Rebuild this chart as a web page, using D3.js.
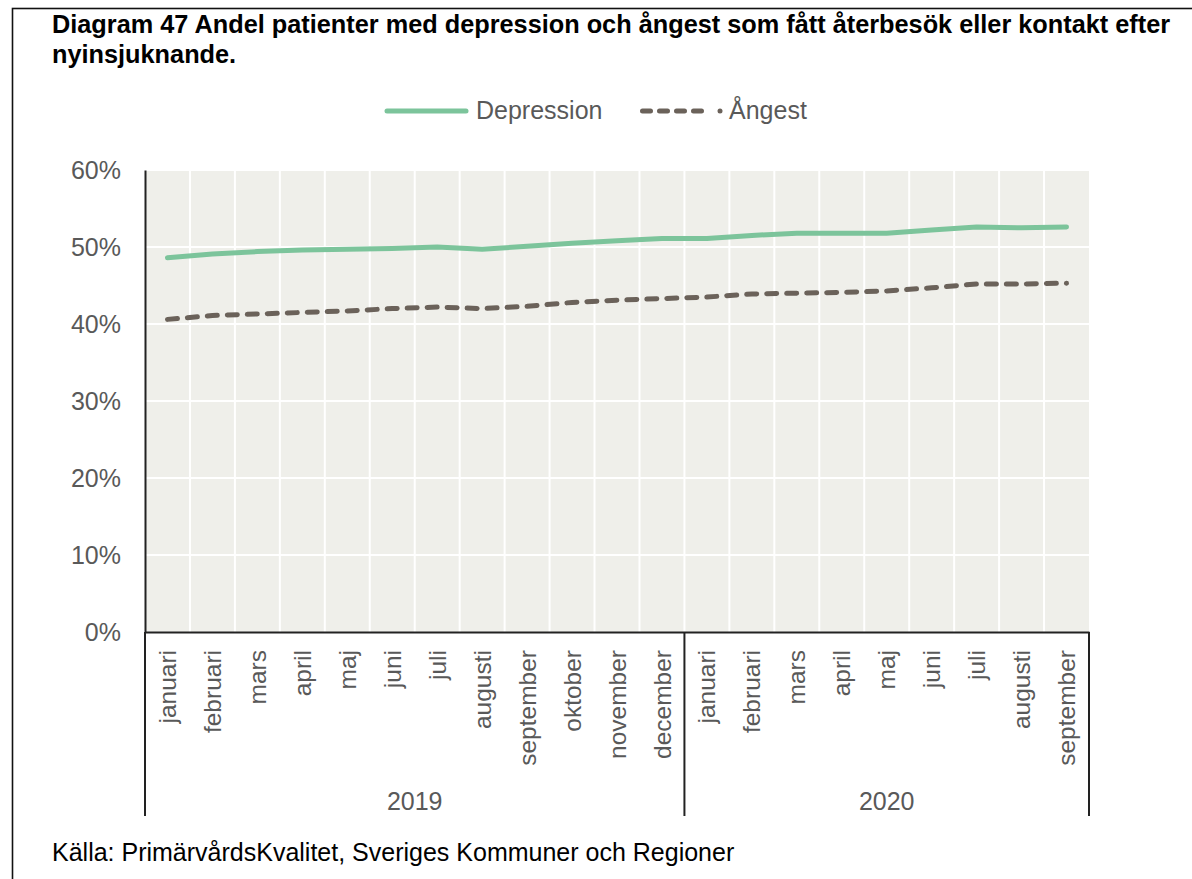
<!DOCTYPE html>
<html>
<head>
<meta charset="utf-8">
<script src="https://cdn.jsdelivr.net/npm/d3@7"></script>
<style>
  html, body { margin: 0; padding: 0; background: #fff; }
  svg { display: block; font-family: "Liberation Sans", Arial, Helvetica, sans-serif; }
</style>
</head>
<body>
<svg id="chart" width="1192" height="879"></svg>
<script>
// Months per year group
const years = ["2019", "2020"];
const months2019 = ["januari", "februari", "mars", "april", "maj", "juni", "juli", "augusti", "september", "oktober", "november", "december"];
const months2020 = ["januari", "februari", "mars", "april", "maj", "juni", "juli", "augusti", "september"];

// Share of patients (%) with a follow-up visit or contact after new onset
const depression = [48.6, 49.1, 49.4, 49.6, 49.7, 49.8, 50.0, 49.7, 50.1, 50.5, 50.8, 51.1,
                    51.1, 51.5, 51.8, 51.8, 51.8, 52.2, 52.6, 52.5, 52.6];
const angest = [40.6, 41.1, 41.3, 41.5, 41.7, 42.0, 42.2, 42.0, 42.3, 42.8, 43.1, 43.3,
                43.5, 43.9, 44.0, 44.1, 44.3, 44.7, 45.2, 45.2, 45.3];

const yTicks = [0, 10, 20, 30, 40, 50, 60];

const title1 = "Diagram 47 Andel patienter med depression och ångest som fått återbesök eller kontakt efter";
const title2 = "nyinsjuknande.";
const source = "Källa: PrimärvårdsKvalitet, Sveriges Kommuner och Regioner";

// Build category keys
const cats = [];
months2019.forEach((m, i) => cats.push({ key: "2019-" + i, label: m, year: "2019" }));
months2020.forEach((m, i) => cats.push({ key: "2020-" + i, label: m, year: "2020" }));

const svg = d3.select("#chart");
const W = 1192, H = 879;
const m = { left: 145, right: 1089, top: 170, bottom: 632 };

const grey = "#595959";
const bg = "#EFEFEA";
const green = "#7CC49B";
const brown = "#6B625A";
const fs = 25;

// Outer frame
svg.append("rect").attr("x", 12.5).attr("y", 8.5).attr("width", W).attr("height", H)
  .attr("fill", "none").attr("stroke", "#111").attr("stroke-width", 1.6);

// Title
svg.append("text").attr("x", 52).attr("y", 33).attr("font-weight", "bold").attr("font-size", 25.3)
  .attr("fill", "#000").text(title1);
svg.append("text").attr("x", 52).attr("y", 63).attr("font-weight", "bold").attr("font-size", 25.3)
  .attr("fill", "#000").text(title2);

const x = d3.scaleBand().domain(cats.map(d => d.key)).range([m.left, m.right]).padding(0);
const y = d3.scaleLinear().domain([0, 60]).range([m.bottom, m.top]);

// Plot background
svg.append("rect").attr("x", m.left).attr("y", m.top)
  .attr("width", m.right - m.left).attr("height", m.bottom - m.top).attr("fill", bg);

// Horizontal gridlines
svg.append("g").selectAll("line").data(yTicks.slice(1)).join("line")
  .attr("x1", m.left).attr("x2", m.right)
  .attr("y1", d => y(d)).attr("y2", d => y(d))
  .attr("stroke", "#fff").attr("stroke-width", 2);

// Vertical gridlines at category boundaries
svg.append("g").selectAll("line").data(cats.slice(1)).join("line")
  .attr("x1", d => x(d.key)).attr("x2", d => x(d.key))
  .attr("y1", m.top).attr("y2", m.bottom)
  .attr("stroke", "#fff").attr("stroke-width", 2);

// Y axis
const yAxis = d3.axisLeft(y).tickValues(yTicks).tickSize(0).tickPadding(24)
  .tickFormat(d => d + "%");
const gy = svg.append("g").attr("transform", `translate(${m.left},0)`).call(yAxis);
gy.select(".domain").attr("stroke", "#222").attr("stroke-width", 2);
gy.selectAll("text").attr("font-size", fs).attr("fill", grey)
  .attr("font-family", "'Liberation Sans', Arial, sans-serif");

// X axis with rotated month labels
const xAxis = d3.axisBottom(x).tickSize(0).tickFormat(k => cats.find(c => c.key === k).label);
const gx = svg.append("g").attr("transform", `translate(0,${m.bottom})`).call(xAxis);
gx.select(".domain").attr("stroke", "#222").attr("stroke-width", 2);
gx.selectAll("text")
  .attr("font-size", fs - 0.5).attr("fill", grey)
  .attr("font-family", "'Liberation Sans', Arial, sans-serif")
  .attr("text-anchor", "end")
  .attr("dy", "0.35em")
  .attr("transform", "translate(0,18) rotate(-90)")
  .attr("y", 0).attr("x", 0);

// Year group separators and labels
const groupBottom = 816;
const yearBounds = years.map(yr => {
  const c = cats.filter(d => d.year === yr);
  return { year: yr, x0: x(c[0].key), x1: x(c[c.length - 1].key) + x.bandwidth() };
});
const sepX = [yearBounds[0].x0, yearBounds[0].x1, yearBounds[1].x1];
svg.append("g").selectAll("line").data(sepX).join("line")
  .attr("x1", d => d).attr("x2", d => d)
  .attr("y1", m.bottom).attr("y2", groupBottom)
  .attr("stroke", "#222").attr("stroke-width", 2);
svg.append("g").selectAll("text").data(yearBounds).join("text")
  .attr("x", d => (d.x0 + d.x1) / 2).attr("y", 810)
  .attr("text-anchor", "middle").attr("font-size", fs).attr("fill", grey)
  .text(d => d.year);

// Series lines
const line = d3.line().x((d, i) => x(cats[i].key) + x.bandwidth() / 2).y(d => y(d));
svg.append("path").datum(depression).attr("d", line)
  .attr("fill", "none").attr("stroke", green).attr("stroke-width", 5)
  .attr("stroke-linejoin", "round").attr("stroke-linecap", "round");
svg.append("path").datum(angest).attr("d", line)
  .attr("fill", "none").attr("stroke", brown).attr("stroke-width", 5)
  .attr("stroke-dasharray", "10 10").attr("stroke-linecap", "round");

// Legend
const lg = svg.append("g");
lg.append("line").attr("x1", 387).attr("x2", 466).attr("y1", 111).attr("y2", 111)
  .attr("stroke", green).attr("stroke-width", 5).attr("stroke-linecap", "round");
lg.append("text").attr("x", 476).attr("y", 119).attr("font-size", fs).attr("fill", grey).text("Depression");
lg.append("line").attr("x1", 642.5).attr("x2", 702).attr("y1", 111).attr("y2", 111)
  .attr("stroke", brown).attr("stroke-width", 5).attr("stroke-dasharray", "8 9").attr("stroke-linecap", "round");
lg.append("circle").attr("cx", 720).attr("cy", 111).attr("r", 2.5).attr("fill", brown);
lg.append("text").attr("x", 729).attr("y", 119).attr("font-size", fs).attr("fill", grey).text("Ångest");

// Source
svg.append("text").attr("x", 52).attr("y", 861).attr("font-size", fs).attr("fill", "#000").text(source);
</script>
</body>
</html>
